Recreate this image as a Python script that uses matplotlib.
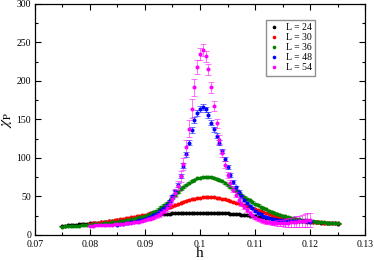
import numpy as np
import matplotlib
matplotlib.use("Agg")
import matplotlib.pyplot as plt
from matplotlib.ticker import MultipleLocator

plt.rcParams['font.family'] = ['Liberation Serif', 'DejaVu Serif']
plt.rcParams['mathtext.fontset'] = 'stix'

# h grids (step 0.0005)
h24 = np.round(np.arange(0.075, 0.12501, 0.0005), 4)
h30 = np.round(np.arange(0.080, 0.12501, 0.0005), 4)
h36 = np.round(np.arange(0.075, 0.12501, 0.0005), 4)
h48 = np.round(np.arange(0.085, 0.12001, 0.0005), 4)
h54 = np.round(np.arange(0.080, 0.12001, 0.0005), 4)

chi24 = [12.0, 12.3, 12.5, 12.8, 13.1, 13.4, 13.7, 14.0, 14.3, 14.7,
         15.0, 15.4, 15.8, 16.1, 16.5, 16.9, 17.3, 17.7, 18.2, 18.6,
         19.0, 19.5, 19.9, 20.4, 20.8, 21.3, 21.8, 22.4, 22.9, 23.5,
         24.0, 24.6, 25.2, 25.8, 26.3, 26.8, 27.1, 27.4, 27.6, 27.8,
         28.0, 28.2, 28.3, 28.4, 28.5, 28.6, 28.7, 28.8, 28.8, 28.9,
         28.9, 28.9, 28.9, 28.8, 28.8, 28.7, 28.6, 28.5, 28.4, 28.2,
         28.0, 27.8, 27.5, 27.2, 26.9, 26.6, 26.2, 25.8, 25.3, 24.9,
         24.4, 23.9, 23.4, 22.9, 22.5, 22.0, 21.6, 21.2, 20.8, 20.4,
         20.0, 19.7, 19.4, 19.1, 18.8, 18.5, 18.2, 18.0, 17.7, 17.5,
         17.2, 17.0, 16.7, 16.5, 16.2, 16.0, 15.8, 15.5, 15.3, 15.0,
         14.8]

chi30 = [14.8, 15.2, 15.6, 16.0, 16.4, 16.8, 17.3, 17.9, 18.5, 19.0,
         19.6, 20.2, 20.9, 21.5, 22.2, 22.8, 23.5, 24.3, 25.0, 25.8,
         26.5, 27.3, 28.2, 29.1, 30.0, 31.0, 32.1, 33.3, 34.5, 35.7,
         37.0, 38.6, 40.1, 41.6, 43.1, 44.5, 45.6, 46.5, 47.3, 47.9,
         48.4, 48.7, 48.9, 49.0, 48.9, 48.7, 48.3, 47.8, 47.1, 46.2,
         45.2, 44.2, 43.1, 42.0, 40.9, 39.8, 38.6, 37.4, 36.2, 35.0,
         33.8, 32.5, 31.2, 29.9, 28.7, 27.5, 26.4, 25.3, 24.3, 23.4,
         22.5, 21.8, 21.1, 20.5, 20.0, 19.5, 19.1, 18.7, 18.3, 17.9,
         17.6, 17.3, 17.0, 16.7, 16.4, 16.2, 16.0, 15.7, 15.5, 15.2,
         15.0]

chi36 = [11.0, 11.2, 11.4, 11.6, 11.8, 12.0, 12.3, 12.5, 12.8, 13.1,
         13.4, 13.8, 14.1, 14.5, 14.8, 15.2, 15.6, 16.0, 16.5, 16.9,
         17.3, 17.8, 18.3, 18.9, 19.5, 20.2, 21.0, 21.9, 22.8, 23.9,
         25.0, 26.4, 27.9, 29.6, 31.5, 33.5, 36.0, 38.8, 41.7, 44.8,
         48.0, 52.0, 55.8, 59.4, 62.6, 65.5, 68.0, 70.2, 72.0, 73.5,
         74.6, 75.3, 75.6, 75.5, 75.0, 74.2, 73.0, 71.5, 69.6, 67.4,
         65.0, 62.5, 60.0, 57.4, 54.8, 52.2, 49.7, 47.3, 45.0, 42.8,
         40.6, 38.6, 36.7, 34.9, 33.2, 31.6, 30.1, 28.7, 27.4, 26.2,
         25.1, 24.1, 23.2, 22.4, 21.6, 20.9, 20.3, 19.7, 19.2, 18.7,
         18.3, 17.9, 17.5, 17.1, 16.8, 16.5, 16.2, 15.9, 15.6, 15.3,
         15.0]

chi48 = [13.0, 13.7, 14.4, 15.1, 15.8, 16.6, 17.4, 18.2, 19.1, 20.1,
         21.2, 22.4, 23.8, 25.4, 27.3, 29.6, 32.3, 35.6, 39.5, 44.5,
         50.0, 57.0, 65.0, 76.0, 90.0, 105.0, 120.0, 136.0, 149.0, 158.0,
         164.0, 166.0, 163.0, 156.0, 146.0, 137.0, 129.0, 120.0, 109.0, 99.0,
         88.0, 78.0, 69.0, 62.0, 56.0, 50.0, 45.5, 41.5, 38.0, 34.5,
         31.5, 29.0, 27.0, 25.2, 23.6, 22.3, 21.3, 20.5, 19.8, 19.3,
         18.9, 18.6, 18.4, 18.2, 18.1, 18.0, 17.9, 17.8, 17.7, 17.6,
         17.5]
err48 = [0.3, 0.3, 0.3, 0.3, 0.3, 0.3, 0.3, 0.4, 0.4, 0.4,
         0.5, 0.5, 0.6, 0.6, 0.7, 0.8, 0.9, 1.0, 1.2, 1.4,
         1.7, 2.0, 2.3, 2.6, 3.0, 3.3, 3.5, 3.7, 3.8, 3.8,
         3.8, 3.8, 3.8, 3.7, 3.6, 3.5, 3.4, 3.2, 3.0, 2.8,
         2.6, 2.4, 2.2, 2.0, 1.9, 1.8, 1.7, 1.6, 1.5, 1.4,
         1.3, 1.2, 1.1, 1.0, 1.0, 0.9, 0.9, 0.9, 0.9, 0.9,
         0.9, 0.9, 0.9, 0.9, 0.9, 0.9, 0.9, 0.9, 0.9, 0.9,
         0.9]

chi54 = [12.0, 12.2, 12.4, 12.6, 12.8, 13.0, 13.2, 13.4, 13.6, 13.9,
         14.1, 14.4, 14.7, 15.0, 15.4, 15.8, 16.3, 16.8, 17.5, 18.3,
         19.3, 20.3, 21.4, 22.6, 24.1, 26.0, 28.3, 31.2, 35.0, 40.0,
         46.5, 54.5, 64.0, 76.0, 92.0, 114.0, 138.0, 164.0, 192.0, 218.0,
         235.0, 240.0, 232.0, 215.0, 192.0, 168.0, 145.0, 124.0, 106.0, 91.0,
         78.0, 68.0, 59.0, 52.0, 46.0, 40.5, 36.0, 32.0, 28.5, 25.5,
         22.5, 20.6, 19.0, 17.8, 16.9, 16.3, 15.9, 15.6, 15.5, 15.5,
         15.6, 15.8, 16.1, 16.4, 16.8, 17.2, 17.7, 18.2, 18.7, 19.2,
         19.7]
err54 = [0.4, 0.4, 0.4, 0.4, 0.4, 0.4, 0.4, 0.5, 0.5, 0.5,
         0.5, 0.5, 0.6, 0.6, 0.6, 0.7, 0.7, 0.8, 0.9, 1.0,
         1.1, 1.2, 1.4, 1.6, 1.9, 2.2, 2.6, 3.0, 3.5, 4.0,
         4.6, 5.2, 6.0, 7.0, 8.0, 9.5, 11.0, 12.0, 11.0, 9.5,
         8.0, 7.5, 7.0, 7.0, 7.0, 6.5, 6.0, 5.5, 5.0, 4.6,
         4.2, 3.8, 3.5, 3.2, 3.0, 2.8, 2.6, 2.4, 2.2, 2.1,
         2.0, 2.0, 2.0, 2.1, 2.3, 2.5, 2.8, 3.1, 3.5, 4.0,
         4.5, 5.0, 5.5, 6.0, 6.5, 7.0, 7.5, 8.0, 8.5, 9.0,
         9.0]

err24 = 0.3
err30 = 0.5
err36 = 1.0

labels = ['L = 24', 'L = 30', 'L = 36', 'L = 48', 'L = 54']
colors = ['black', 'red', 'green', 'blue', 'magenta']

series = [(h24, chi24, err24), (h30, chi30, err30), (h36, chi36, err36),
          (h48, chi48, err48), (h54, chi54, err54)]

fig = plt.figure(figsize=(3.74, 2.6), dpi=100)
ax = fig.add_axes([0.0928, 0.0962, 0.8839, 0.8885])

for (h, chi, err), c, lab in zip(series, colors, labels):
    ax.errorbar(h, chi, yerr=err, fmt='none', ecolor=c, elinewidth=0.7,
                capsize=2.2, capthick=0.7, alpha=0.55)
    ax.plot(h, chi, 'o', ms=2.9, color=c, mec='none', label=lab)

ax.set_xlim(0.07, 0.13)
ax.set_ylim(0, 300)
ax.xaxis.set_major_locator(MultipleLocator(0.01))
ax.xaxis.set_minor_locator(MultipleLocator(0.005))
ax.yaxis.set_major_locator(MultipleLocator(50))
ax.yaxis.set_minor_locator(MultipleLocator(25))
ax.set_xticks([0.07, 0.08, 0.09, 0.1, 0.11, 0.12, 0.13])
ax.set_xticklabels(['0.07', '0.08', '0.09', '0.1', '0.11', '0.12', '0.13'])
ax.tick_params(which='both', direction='in', top=True, right=True,
               labelsize=7, width=0.8)
ax.tick_params(axis='x', pad=3.5)
ax.tick_params(axis='y', pad=2.5)
ax.tick_params(which='major', length=4.3)
ax.tick_params(which='minor', length=2.2)
for s in ax.spines.values():
    s.set_linewidth(0.9)

ax.set_xlabel('h', fontsize=11, labelpad=-1)
ax.set_ylabel(r'$\chi_{\rm P}$', fontsize=11, labelpad=2)

leg = ax.legend(loc='upper left', bbox_to_anchor=(0.700, 0.931), fontsize=7,
                frameon=True, fancybox=False, edgecolor='0.45',
                handlelength=1.0, handletextpad=0.7, borderpad=0.35,
                labelspacing=0.1, borderaxespad=0, markerscale=0.9)
leg.get_frame().set_linewidth(1.0)

fig.savefig('out.png', dpi=100)
